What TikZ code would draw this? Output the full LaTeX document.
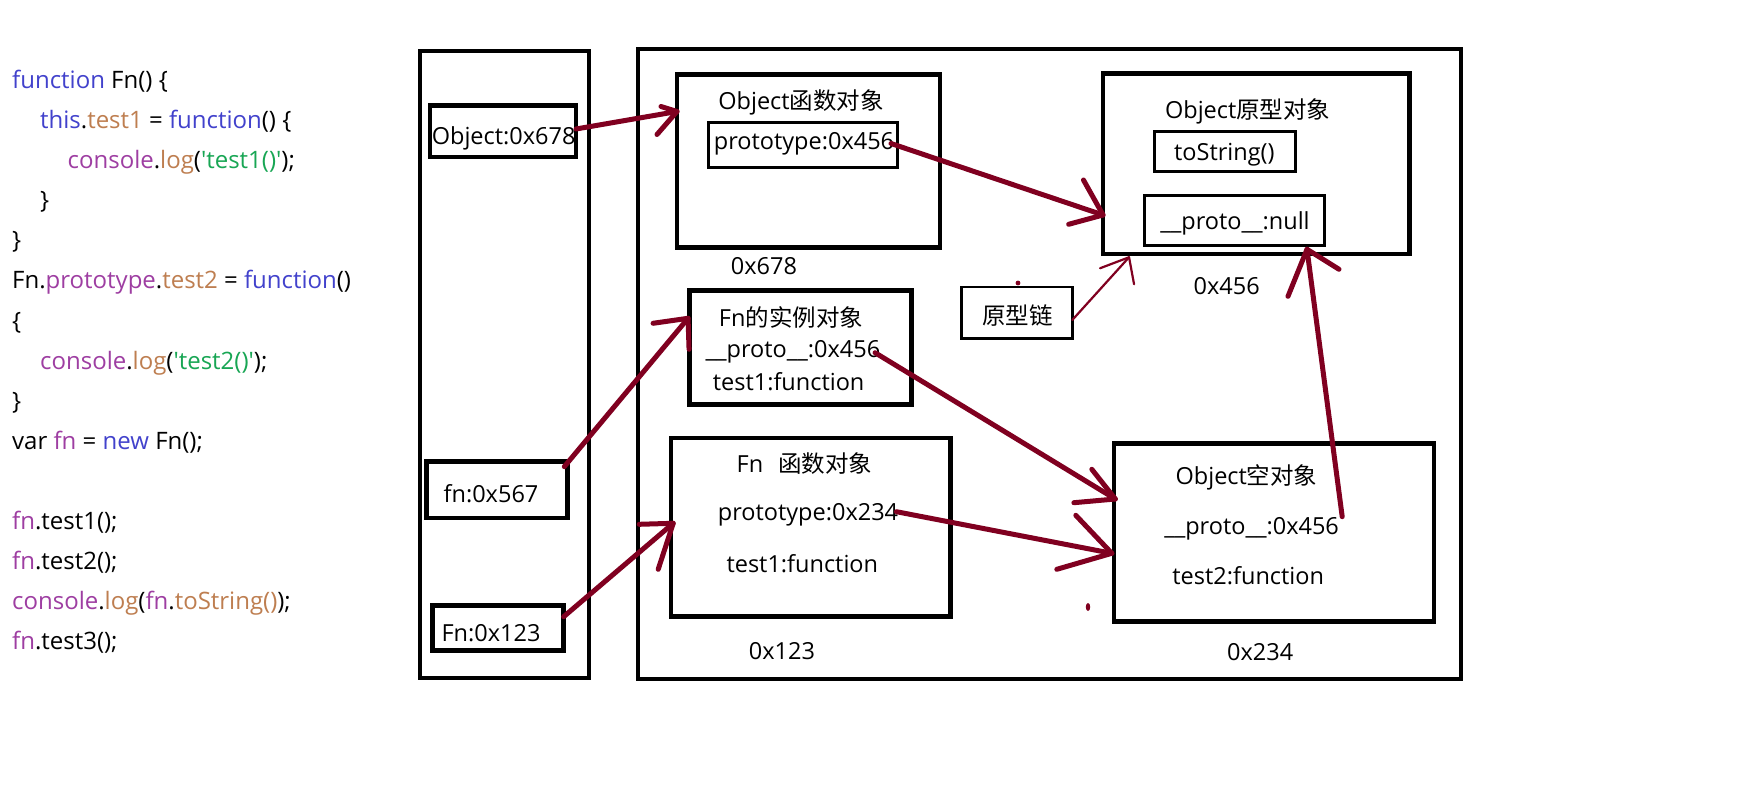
\documentclass[tikz,border=0pt]{standalone}
\usepackage{fontspec}
\setmainfont{Open Sans}
\newfontfamily\cjk{Noto Sans CJK SC}
\newfontfamily\codefont{Open Sans}[Ligatures=TeXOff]
\usetikzlibrary{calc}

\definecolor{arrowred}{RGB}{128,0,32}
\definecolor{kwblue}{RGB}{66,66,204}
\definecolor{propbrown}{RGB}{190,126,80}
\definecolor{objpurple}{RGB}{158,62,162}
\definecolor{strgreen}{RGB}{24,166,84}

% syntax colouring for the JavaScript listing
\newcommand{\jskw}[1]{\textcolor{kwblue}{#1}}
\newcommand{\jsprop}[1]{\textcolor{propbrown}{#1}}
\newcommand{\jsobj}[1]{\textcolor{objpurple}{#1}}
\newcommand{\jsstr}[1]{\textcolor{strgreen}{#1}}

\begin{document}
\begin{tikzpicture}[x=1pt,y=-1pt,
  memframe/.style={draw, line width=4.5pt, inner sep=0pt, outer sep=0pt},
  slot/.style={draw, line width=3pt, inner sep=0pt, outer sep=0pt},
  txt/.style={inner sep=0pt, anchor=base, font=\fontsize{23.5}{28}\selectfont},
  codeline/.style={inner sep=0pt, anchor=base west, font=\codefont\fontsize{24}{28}\selectfont},
  ptr/.style={draw=arrowred, line width=5pt, line cap=round, line join=round},
  thinptr/.style={ptr, line width=2.2pt}]

\fill[white] (0,0) rectangle (1745,786);
\useasboundingbox (0,0) rectangle (1745,786);

% ---- source code ----
\node[codeline] (c1)  at (12,89)    {\jskw{function} Fn() \{};
\node[codeline] (c2)  at (40,129)   {\jskw{this}.\jsprop{test1} = \jskw{function}() \{};
\node[codeline] (c3)  at (67.5,169) {\jsobj{console}.\jsprop{log}(\jsstr{'test1()'});};
\node[codeline] (c4)  at (40,209)   {\}};
\node[codeline] (c5)  at (12,249)   {\}};
\node[codeline] (c6)  at (12,289)   {Fn.\jsobj{prototype}.\jsprop{test2} = \jskw{function}()};
\node[codeline] (c7)  at (12,329)   {\{};
\node[codeline] (c8)  at (40,369)   {\jsobj{console}.\jsprop{log}(\jsstr{'test2()'});};
\node[codeline] (c9)  at (12,409)   {\}};
\node[codeline] (c10) at (12,449)   {var \jsobj{fn} = \jskw{new} Fn();};
\node[codeline] (c11) at (12,529)   {\jsobj{fn}.test1();};
\node[codeline] (c12) at (12,569)   {\jsobj{fn}.test2();};
\node[codeline] (c13) at (12,609)   {\jsobj{console}.\jsprop{log}(\jsobj{fn}.\jsprop{toString()});};
\node[codeline] (c14) at (12,649)   {\jsobj{fn}.test3();};

% ---- stack and heap areas ----
\node[memframe, minimum width=169pt, minimum height=627pt] (stack) at (504.5,364.5) {};
\node[memframe, minimum width=823pt, minimum height=630pt] (heap) at (1049.5,364) {};

% ---- stack variables ----
\node[memframe, minimum width=146pt, minimum height=51.7pt] (obj678) at (503,131.2) {};
\node[txt] (obj678T) at (503.6,144.3) {Object:0x678};
\node[memframe, minimum width=141pt, minimum height=56.7pt] (fn567) at (496.8,489.7) {};
\node[txt] (fn567T) at (491,502.7) {fn:0x567};
\node[memframe, minimum width=131.3pt, minimum height=45pt] (Fn123) at (498,627.8) {};
\node[txt] (Fn123T) at (491,641.7) {Fn:0x123};

% ---- Object function object ----
\node[memframe, minimum width=263pt, minimum height=173pt] (objfn) at (808.5,160.8) {};
\node[txt] (objfnT) at (801,110) {Object{\cjk 函数对象}};
\node[slot, minimum width=189pt, minimum height=45pt] (p456) at (803,145) {};
\node[txt] (p456T) at (804,150) {prototype:0x456};
\node[txt] (a678) at (764,275) {0x678};

% ---- Object prototype object ----
\node[memframe, minimum width=306.5pt, minimum height=180.3pt] (objproto) at (1256.3,163.8) {};
\node[txt] (objprotoT) at (1247.7,118.3) {Object{\cjk 原型对象}};
\node[slot, minimum width=140.6pt, minimum height=39.7pt] (tostr) at (1224.9,151.3) {};
\node[txt] (tostrT) at (1224.4,160.7) {toString()};
\node[slot, minimum width=180.2pt, minimum height=49.4pt] (pnull) at (1234.4,220.5) {};
\node[txt] (pnullT) at (1235,229.3) {\_\_proto\_\_:null};
\node[txt] (a456) at (1226.7,294.3) {0x456};

% ---- prototype chain note ----
\node[slot, line width=2.5pt, minimum width=111pt, minimum height=51.7pt] (chain) at (1016.8,312.8) {};
\node[txt] (chainT) at (1017.5,324) {\cjk 原型链};

% ---- instance of Fn ----
\node[memframe, minimum width=221.7pt, minimum height=114.4pt] (inst) at (800.4,347.5) {};
\node[txt] (instT) at (791,326) {Fn{\cjk 的实例对象}};
\node[txt] (iprotoT) at (792.9,357.3) {\_\_proto\_\_:0x456};
\node[txt] (itestT) at (788.6,390.7) {test1:function};

% ---- Fn function object ----
\node[memframe, minimum width=279.4pt, minimum height=178.3pt] (fnobj) at (810.7,527.2) {};
\node[txt] (fnobjT) at (804.5,472.7) {Fn\hspace{15pt}{\cjk 函数对象}};
\node[txt] (p234T) at (808,520) {prototype:0x234};
\node[txt] (ftestT) at (802.3,572.7) {test1:function};
\node[txt] (a123) at (782,659.3) {0x123};

% ---- empty Object (Fn.prototype) ----
\node[memframe, minimum width=320.4pt, minimum height=177.6pt] (empty) at (1274,532.5) {};
\node[txt] (emptyT) at (1246.5,484.3) {Object{\cjk 空对象}};
\node[txt] (eprotoT) at (1251.6,534.3) {\_\_proto\_\_:0x456};
\node[txt] (etestT) at (1248.2,584.3) {test2:function};
\node[txt] (a234) at (1260.2,660) {0x234};

% ---- references (hand-drawn arrows) ----
\draw[ptr] ([yshift=2.2pt]obj678.east) -- ([yshift=49.3pt]objfn.west) coordinate (t1);
\draw[ptr] (t1) -- ++(-16,-5) (t1) -- ++(-20,23);

\draw[ptr] ([xshift=-6.5pt,yshift=1.5pt]p456.east) -- ([yshift=-51.2pt]objproto.west) coordinate (t2);
\draw[ptr] (t2) -- ++(-19.6,-35) (t2) -- ++(-34.4,9.3);

\draw[ptr] ([xshift=-3pt,yshift=-5.3pt]fn567.north east) -- ([xshift=-1.5pt,yshift=29.2pt]inst.west) coordinate (t3);
\draw[ptr] (t3) -- ++(-35,5) (t3) -- ++(1,31);

\draw[ptr] ([yshift=11.1pt]Fn123.east) -- ([xshift=2.2pt,yshift=3.9pt]fnobj.west) coordinate (t4);
\draw[ptr] (t4) -- ++(-34,1) (t4) -- ++(-15,46);

\draw[ptr] ([xshift=-36.2pt,yshift=-5.2pt]inst.east) -- ([xshift=1.5pt,yshift=33.5pt]empty.west) coordinate (t5);
\draw[ptr] (t5) -- ++(-23.5,-29.7) (t5) -- ++(-41.4,3.7);

\draw[ptr] ([xshift=-54pt,yshift=15.5pt]fnobj.east) -- ([xshift=-2pt,yshift=-20.8pt]empty.west) coordinate (t6);
\draw[ptr] (t6) -- ++(-36,-38) (t6) -- ++(-55,16);

\draw[ptr] ([xshift=68.2pt,yshift=-73pt]empty.north) -- ([xshift=72.6pt,yshift=-4.1pt]pnull.south) coordinate (t7);
\draw[ptr] (t7) -- ++(-19,47) (t7) -- ++(32,20);

\draw[thinptr] ([yshift=-7.2pt]chain.east) -- ([xshift=26pt,yshift=-3.3pt]objproto.south west) coordinate (t8);
\draw[thinptr] (t8) -- ++(-29,11) (t8) -- ++(5,27);

% stray pen dots
\fill[arrowred] (1018,283) circle (2.4);
\fill[arrowred] (1088,607) ellipse (2.2 and 4);

\end{tikzpicture}
\end{document}
